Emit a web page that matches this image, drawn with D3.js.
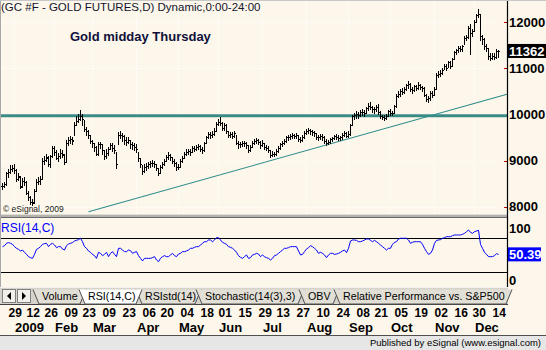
<!DOCTYPE html>
<html><head><meta charset="utf-8">
<script src="https://cdn.jsdelivr.net/npm/d3@7"></script>
<style>
html,body{margin:0;padding:0;background:#fcf7ea;overflow:hidden}
svg{display:block}
text{font-family:"Liberation Sans",Arial,sans-serif}
</style></head><body>
<svg id="c" width="546" height="350"></svg>
<script>
// ---------------- data ----------------
const firstDate = "2008-12-23", lastDate = "2009-12-17";
const holidays = ["2008-12-25","2009-01-01","2009-01-19","2009-02-16","2009-04-10","2009-05-25","2009-07-03","2009-09-07","2009-11-26"];
const opens = [
8440,8450,8500,8720,8750,8810,8840,8790,8590,8650,
8440,8560,8530,8300,8200,8110,8100,8350,8530,8560,
8600,9000,9010,9060,8930,9090,9280,9190,9060,9100,
9170,9130,8970,9390,9440,9470,9440,9760,9860,9910,
9960,9890,9680,9640,9550,9430,9380,9300,9150,9350,
9350,9230,9090,9160,9260,9330,9280,9230,8930,9560,
9550,9530,9440,9400,9450,9350,9330,9290,9250,9050,
8920,8770,8850,8880,8920,8940,8950,8930,8830,8720,
8860,8920,8990,9080,9120,9080,9000,8950,8850,8870,
8980,9060,9150,9180,9200,9190,9270,9250,9290,9310,
9250,9220,9380,9500,9580,9560,9570,9650,9800,9840,
9820,9700,9780,9630,9560,9570,9540,9590,9390,9350,
9360,9380,9370,9330,9220,9300,9380,9420,9440,9400,
9340,9380,9290,9280,9220,9130,9150,9140,9200,9270,
9360,9390,9420,9500,9510,9530,9550,9540,9550,9460,
9450,9500,9600,9640,9660,9640,9620,9590,9500,9510,
9540,9520,9420,9390,9410,9460,9480,9530,9520,9490,
9500,9560,9600,9540,9580,9780,9960,9980,10000,9980,
10050,10060,10040,10130,10190,10170,10110,10120,10160,10050,
9960,9940,9920,9970,10070,10020,10040,10180,10400,10430,
10500,10490,10550,10630,10660,10540,10520,10610,10580,10630,
10600,10560,10420,10330,10350,10470,10410,10550,10850,10880,
10900,10960,11040,11010,11130,11050,11190,11340,11390,11440,
11410,11470,11650,11670,11880,11760,11810,12010,12150,12170,
11690,11640,11480,11440,11260,11220,11270,11250,11370];
const closes = [
8450,8490,8720,8750,8810,8840,8790,8590,8660,8430,
8560,8540,8300,8210,8110,8090,8350,8530,8560,8600,
9000,9010,9070,8930,9090,9280,9190,9060,9100,9170,
9140,8970,9390,9440,9470,9430,9760,9860,9910,9960,
9890,9680,9640,9550,9430,9380,9300,9150,9350,9350,
9230,9090,9160,9260,9330,9280,9230,8920,9560,9550,
9530,9440,9400,9450,9350,9330,9290,9250,9050,8920,
8770,8850,8880,8920,8940,8950,8930,8830,8720,8860,
8920,8990,9080,9120,9080,9000,8950,8850,8870,8980,
9060,9150,9180,9200,9190,9270,9250,9290,9310,9250,
9220,9380,9500,9580,9560,9570,9650,9800,9840,9820,
9700,9780,9630,9560,9570,9540,9590,9390,9350,9360,
9380,9370,9330,9220,9300,9380,9420,9440,9400,9340,
9380,9290,9280,9220,9130,9150,9140,9200,9270,9360,
9390,9420,9500,9510,9530,9550,9540,9550,9460,9450,
9500,9600,9640,9660,9640,9620,9590,9500,9510,9540,
9520,9420,9390,9410,9460,9480,9530,9520,9490,9500,
9560,9600,9540,9580,9780,9960,9980,10000,9980,10050,
10060,10040,10130,10190,10170,10110,10120,10160,10050,9960,
9940,9920,9970,10070,10020,10040,10180,10400,10430,10500,
10490,10550,10630,10660,10540,10520,10610,10580,10630,10600,
10560,10420,10330,10350,10470,10410,10550,10850,10880,10900,
10960,11040,11010,11130,11050,11190,11340,11390,11440,11410,
11470,11650,11670,11880,11760,11810,12010,12150,12180,11690,
11640,11480,11440,11260,11220,11270,11250,11370,11362];
const highs = [
8520,8530,8760,8810,8900,8910,8920,8820,8730,8660,
8620,8640,8550,8330,8240,8160,8390,8600,8650,8660,
9060,9100,9140,9100,9110,9310,9320,9230,9160,9260,
9230,9140,9450,9510,9540,9510,9830,9960,10000,10090,
10010,9870,9730,9660,9560,9450,9390,9320,9400,9410,
9360,9230,9250,9300,9380,9370,9330,9180,9620,9650,
9600,9550,9500,9500,9440,9400,9380,9360,9180,9060,
8900,8920,8940,8970,9000,9020,8990,8930,8830,8900,
8960,9040,9120,9180,9150,9080,9030,8960,8930,9030,
9100,9190,9240,9260,9250,9310,9320,9330,9360,9340,
9290,9410,9540,9620,9620,9630,9700,9830,9900,9940,
9830,9820,9800,9650,9620,9610,9630,9560,9420,9410,
9420,9430,9400,9330,9340,9420,9460,9480,9470,9420,
9450,9380,9340,9310,9230,9200,9190,9240,9310,9390,
9430,9460,9530,9560,9570,9600,9580,9590,9560,9510,
9550,9630,9680,9700,9690,9670,9650,9600,9550,9580,
9570,9530,9460,9450,9490,9520,9560,9570,9550,9540,
9590,9640,9620,9640,9800,9990,10030,10070,10060,10090,
10110,10090,10170,10240,10260,10190,10160,10200,10220,10070,
9990,9980,10010,10100,10110,10080,10210,10450,10500,10540,
10560,10590,10660,10720,10680,10590,10640,10640,10700,10660,
10620,10590,10440,10390,10500,10510,10600,10890,10930,10960,
11000,11080,11080,11160,11150,11220,11380,11420,11470,11490,
11500,11700,11720,11920,11950,11840,12040,12180,12275,12180,
11720,11650,11520,11430,11320,11320,11330,11420,11400];
const lows = [
8390,8420,8480,8650,8720,8770,8740,8560,8570,8410,
8420,8470,8270,8150,8060,8030,8080,8340,8490,8500,
8590,8930,8980,8880,8870,9070,9120,9030,9000,9060,
9080,8930,8960,9340,9380,9360,9560,9780,9840,9880,
9780,9640,9550,9480,9380,9290,9200,9110,9120,9270,
9150,9040,9050,9130,9250,9200,9170,8830,9350,9480,
9420,9360,9330,9370,9280,9250,9230,9180,9000,8860,
8700,8760,8800,8830,8870,8880,8860,8790,8690,8720,
8830,8900,8990,9040,9020,8950,8890,8800,8810,8860,
8970,9050,9120,9140,9130,9180,9200,9220,9250,9200,
9160,9210,9370,9480,9490,9500,9550,9640,9760,9770,
9660,9660,9590,9510,9500,9480,9520,9350,9270,9300,
9310,9320,9280,9180,9200,9300,9350,9390,9360,9280,
9320,9250,9230,9180,9080,9100,9090,9110,9180,9250,
9320,9360,9400,9450,9460,9490,9480,9480,9420,9400,
9420,9490,9570,9600,9580,9560,9540,9460,9450,9470,
9450,9380,9340,9350,9390,9430,9460,9470,9440,9450,
9470,9540,9510,9500,9560,9760,9900,9930,9920,9960,
9990,9970,10030,10100,10110,10060,10040,10080,10010,9920,
9890,9880,9910,9960,9990,9980,10030,10170,10370,10400,
10430,10470,10530,10580,10500,10470,10500,10520,10540,10540,
10500,10390,10290,10270,10320,10380,10420,10540,10800,10840,
10870,10980,10960,11020,11010,11040,11200,11310,11360,11370,
11380,11520,11600,11660,11310,11700,11800,12000,12110,11600,
11530,11420,11380,11200,11180,11190,11200,11230,11240];
const rsi = [
59.5,60.6,63.4,64.2,63.4,62.2,59.5,57.5,56.3,54.4,
55.5,52.8,50.4,47.7,46.5,45.7,50.4,56.3,57.5,59.5,
62.2,63.0,63.4,59.5,62.2,63.4,61.4,58.3,59.5,59.5,
56.7,55.5,60.6,62.6,63.4,64.2,66.1,66.9,67.7,69.3,
65.3,59.5,57.5,54.4,52.8,50.4,48.9,45.7,52.8,51.6,
48.9,50.4,52.8,47.7,51.6,53.6,50.4,47.7,57.5,57.5,
55.5,53.6,53.6,55.5,54.8,51.6,52.8,53.6,48.9,45.7,
42.6,45.7,45.7,45.7,45.7,46.5,47.7,43.8,41.8,45.7,
47.7,48.9,47.7,47.7,49.7,51.6,48.9,47.7,50.8,51.6,
53.6,53.6,54.4,55.5,57.5,57.5,58.7,59.5,59.5,61.4,
63.4,65.3,65.3,67.3,67.3,65.3,67.3,70.0,70.0,67.3,
64.6,63.4,62.2,59.5,58.7,57.5,55.5,52.8,48.9,46.9,
45.7,47.7,49.7,45.7,46.5,49.7,50.4,51.6,50.8,47.7,
49.7,47.7,46.5,45.7,43.8,45.7,48.9,49.7,51.6,53.6,
55.5,57.5,57.5,58.3,59.5,59.5,59.5,59.5,54.4,49.7,
50.4,53.6,56.7,58.3,60.6,59.5,57.5,55.5,51.6,52.8,
51.6,49.7,46.5,49.7,51.6,51.6,50.4,50.8,51.6,52.8,
54.4,55.5,52.4,57.5,66.1,67.3,67.3,66.9,65.3,65.3,
66.1,67.3,68.5,68.5,66.9,65.3,66.9,65.3,63.4,61.4,
59.5,57.5,55.5,57.5,57.5,62.2,64.6,65.3,68.5,69.3,
69.3,69.3,69.3,67.3,63.4,64.6,65.3,65.3,65.3,65.3,
62.2,57.5,53.6,50.4,51.6,55.5,63.4,66.9,67.3,67.7,
69.3,70.0,71.2,71.2,71.2,72.4,73.2,73.2,73.2,73.2,
74.0,75.1,77.1,79.1,76.3,75.1,77.1,77.9,78.7,62.2,
57.5,52.8,50.4,47.7,47.7,47.7,48.9,51.2,50.39];
const dayTicks = ["2008-12-29","2009-01-12","2009-01-26","2009-02-09","2009-02-23","2009-03-09","2009-03-23",
  "2009-04-06","2009-04-20","2009-05-04","2009-05-18","2009-06-01","2009-06-15","2009-06-29","2009-07-13",
  "2009-07-27","2009-08-10","2009-08-24","2009-09-08","2009-09-21","2009-10-05","2009-10-19","2009-11-02",
  "2009-11-16","2009-11-30","2009-12-14"];
const monthLabels = ["2009","Feb","Mar","Apr","May","Jun","Jul","Aug","Sep","Oct","Nov","Dec"];
const priceTicks = [8000,9000,10000,11000,12000];
const rsiBands = [70,30];
const rsiScaleLabels = [100,0];
const supportLevel = 9970;
const trendAnchors = [["2009-02-26",7890],["2009-09-30",9715]];
const lastPrice = 11362, lastRsi = 50.39;
const titleText = "(GC #F - GOLD FUTURES,D) Dynamic,0:00-24:00";
const noteText = "Gold midday Thursday";
const copyText = "\u00a9 eSignal, 2009";
const rsiName = "RSI(14,C)";
const tabs = ["Volume","RSI(14,C)","RSIstd(14)","Stochastic(14(3),3)","OBV","Relative Performance vs. S&P500"];
const activeTab = "RSI(14,C)";
const footer = "Published by eSignal (www.esignal.com)";

// ---------------- layout ----------------
const W = 546, H = 350, AX = 507;
const PB = 214, RT = 218, RB = 287;
const BG = "#fcf7ea", TEAL = "#3a8a86";
const NARROW = '"Liberation Sans Narrow","Arial Narrow","Liberation Sans",Arial,sans-serif';

const parse = d3.utcParse("%Y-%m-%d"), fmt = d3.utcFormat("%Y-%m-%d");
const dates = d3.utcDays(parse(firstDate), d3.utcDay.offset(parse(lastDate), 1))
  .filter(d => d.getUTCDay() % 6 !== 0 && !holidays.includes(fmt(d))).map(fmt);

const x = d3.scalePoint().domain(dates).range([2.5, 498.5]);
const y = d3.scaleLinear().domain([8000, 12000]).range([206.7, 22]);
const yR = d3.scaleLinear().domain([30, 70]).range([271.7, 237.7]);

const svg = d3.select("#c");
svg.append("rect").attr("width", W).attr("height", H).attr("fill", BG);

// ----- price panel -----
const monthStarts = dates.filter((d, i) => i > 0 && d.slice(5, 7) !== dates[i - 1].slice(5, 7));
const grid = svg.append("g").attr("stroke", "#ffffff").attr("stroke-dasharray", "1,1").attr("shape-rendering", "crispEdges");
grid.selectAll("line.h").data(priceTicks).join("line")
  .attr("x1", 0).attr("x2", 497).attr("y1", d => Math.round(y(d)) + 0.5).attr("y2", d => Math.round(y(d)) + 0.5);
grid.selectAll("line.v").data(monthStarts).join("line")
  .attr("x1", d => Math.floor(x(d)) + 0.5).attr("x2", d => Math.floor(x(d)) + 0.5).attr("y1", 1).attr("y2", PB);

svg.append("text").attr("x", 1).attr("y", 10.5).attr("font-size", 11.5).attr("fill", "#14142e").text(titleText);
svg.append("text").attr("x", 70).attr("y", 40.5).attr("font-size", 13).attr("font-weight", "bold").attr("fill", "#10103a").text(noteText);
svg.append("text").attr("x", 3).attr("y", 212).attr("font-size", 8.5).attr("fill", "#202020").text(copyText);

// support line + trend line
svg.append("line").attr("x1", 0).attr("x2", AX).attr("y1", y(supportLevel)).attr("y2", y(supportLevel))
  .attr("stroke", TEAL).attr("stroke-width", 3.2);
{
  const [a1, a2] = trendAnchors;
  const x1 = x(a1[0]), y1 = y(a1[1]), x2 = x(a2[0]), y2 = y(a2[1]);
  const yEnd = y1 + (y2 - y1) * (AX - x1) / (x2 - x1);
  svg.append("line").attr("x1", x1).attr("y1", y1).attr("x2", AX).attr("y2", yEnd)
    .attr("stroke", "#2f8c8c").attr("stroke-width", 1.1);
}

// OHLC bars
const bars = dates.map((d, i) => ({ d, o: opens[i], h: highs[i], l: lows[i], c: closes[i] }));
const bg = svg.append("g").attr("fill", "#000").attr("shape-rendering", "crispEdges");
bg.selectAll("rect.hl").data(bars).join("rect")
  .attr("x", d => Math.floor(x(d.d))).attr("width", 1)
  .attr("y", d => Math.round(y(d.h)))
  .attr("height", d => Math.max(1, Math.round(y(d.l)) - Math.round(y(d.h)) + 1));
bg.selectAll("rect.o").data(bars).join("rect")
  .attr("x", d => Math.floor(x(d.d)) - 1).attr("width", 1)
  .attr("y", d => Math.round(y(d.o))).attr("height", 1);
bg.selectAll("rect.c").data(bars).join("rect")
  .attr("x", d => Math.floor(x(d.d)) + 1).attr("width", 1)
  .attr("y", d => Math.round(y(d.c))).attr("height", 1);

// splitter
svg.append("rect").attr("x", 0).attr("y", PB).attr("width", AX + 1).attr("height", 4).attr("fill", "#b4b2ac");
svg.append("line").attr("x1", 0).attr("x2", AX + 1).attr("y1", PB + 0.5).attr("y2", PB + 0.5).attr("stroke", "#e0ddd6");
svg.append("line").attr("x1", 0).attr("x2", AX + 1).attr("y1", PB + 3.5).attr("y2", PB + 3.5).attr("stroke", "#6a6a6a");

// price axis labels
const pa = svg.append("g").attr("transform", `translate(${AX},0)`)
  .call(d3.axisRight(y).tickValues(priceTicks).tickSize(0).tickPadding(2).tickFormat(d3.format("d")));
pa.select(".domain").remove();
pa.selectAll("text").attr("font-family", NARROW).attr("font-weight", "bold").attr("font-size", 13).attr("fill", "#000");
svg.selectAll("line.rt").data(priceTicks.filter(v => v !== 10000)).join("line")
  .attr("x1", AX - 3).attr("x2", AX).attr("y1", d => Math.round(y(d)) + 0.5).attr("y2", d => Math.round(y(d)) + 0.5)
  .attr("stroke", "#b00000");
{
  const yl = y(lastPrice);
  svg.append("rect").attr("x", AX + 1).attr("y", yl - 7.5).attr("width", 38).attr("height", 14).attr("fill", "#000");
  svg.append("text").attr("x", AX + 2).attr("y", yl + 4.5).attr("font-family", NARROW).attr("font-weight", "bold")
    .attr("font-size", 13).attr("fill", "#fff").text(d3.format("d")(lastPrice));
}

// ----- RSI panel -----
svg.append("text").attr("x", 1).attr("y", 232).attr("font-size", 12).attr("fill", "#0000ff").text(rsiName);
svg.selectAll("line.band").data(rsiBands).join("line")
  .attr("x1", 0).attr("x2", AX).attr("y1", d => Math.round(yR(d)) + 0.5).attr("y2", d => Math.round(yR(d)) + 0.5)
  .attr("stroke", "#000").attr("shape-rendering", "crispEdges");
svg.append("path").datum(dates.map((d, i) => [x(d), yR(rsi[i])]))
  .attr("d", d3.line()).attr("fill", "none").attr("stroke", "#0000ff").attr("stroke-width", 1);
svg.selectAll("text.rl").data(rsiScaleLabels).join("text")
  .attr("x", AX + 2)
  .attr("y", d => Math.min(Math.max(yR(d), RT + 10), RB - 7) + 4.5)
  .attr("font-family", NARROW).attr("font-weight", "bold").attr("font-size", 13).attr("fill", "#000").text(d => d);
{
  const yl = yR(lastRsi);
  svg.append("rect").attr("x", AX + 1).attr("y", yl - 7).attr("width", 33).attr("height", 14).attr("fill", "#0000ff");
  svg.append("text").attr("x", AX + 2).attr("y", yl + 4.5).attr("font-family", NARROW).attr("font-weight", "bold")
    .attr("font-size", 13).attr("fill", "#fff").text(d3.format(".2f")(lastRsi));
}

// axis line and borders
svg.append("line").attr("x1", AX + 0.5).attr("x2", AX + 0.5).attr("y1", 0).attr("y2", RB).attr("stroke", "#000").attr("stroke-width", 1.2);
svg.append("line").attr("x1", 0.5).attr("x2", 0.5).attr("y1", 0).attr("y2", RB).attr("stroke", "#a8a8a8");
svg.append("line").attr("x1", 0).attr("x2", W).attr("y1", 0.5).attr("y2", 0.5).attr("stroke", "#c8c8c8");

// ----- tab bar -----
const TB = RB, TH = 18;
svg.append("rect").attr("x", 0).attr("y", TB).attr("width", AX + 1).attr("height", TH).attr("fill", "#d6d3ca");
svg.append("line").attr("x1", 0).attr("x2", AX + 1).attr("y1", TB + 0.5).attr("y2", TB + 0.5).attr("stroke", "#f4f2ee");
svg.append("line").attr("x1", 0).attr("x2", AX + 1).attr("y1", TB + TH - 0.5).attr("y2", TB + TH - 0.5).attr("stroke", "#404040");
[[2, "M7,296 L11,292 L11,300 Z"], [17, "M26,296 L22,292 L22,300 Z"]].forEach(([bx, tri]) => {
  svg.append("rect").attr("x", bx + 0.5).attr("y", TB + 2.5).attr("width", 13).attr("height", 13)
    .attr("fill", "#f2f0ea").attr("stroke", "#808080");
  svg.append("path").attr("d", tri).attr("fill", "#000");
});
const tabEdges = [[33, 86], [79, 142], [136, 201], [196, 304], [299, 339], [334, 512]];
const tabData = tabs.map((t, i) => ({ t, L: tabEdges[i][0], R: tabEdges[i][1] }));
const tg = svg.append("g");
const drawTab = sel => sel.append("path")
  .attr("d", d => `M${d.L},${TB + 2.5} L${d.L + 6},${TB + TH - 1} L${d.R - 6},${TB + TH - 1} L${d.R},${TB + 2.5}`)
  .attr("fill", d => d.t === activeTab ? "#ffffff" : "#e2dfd6").attr("stroke", "#505050");
const inactive = tg.selectAll("g.tab").data(tabData.filter(d => d.t !== activeTab)).join("g");
drawTab(inactive);
const active = tg.selectAll("g.act").data(tabData.filter(d => d.t === activeTab)).join("g");
drawTab(active);
tg.selectAll("text").data(tabData).join("text")
  .attr("x", d => d.L + 9).attr("y", TB + 12.5).attr("font-size", 10.7).attr("fill", "#000").text(d => d.t);

// ----- date axis -----
const da = svg.append("g").attr("transform", "translate(0,306)")
  .call(d3.axisBottom(x).tickValues(dayTicks).tickSize(0).tickPadding(0).tickFormat(d => d.slice(8)));
da.select(".domain").remove();
da.selectAll("text").attr("text-anchor", "start").attr("dy", 0).attr("y", 10.7).attr("x", -0.5)
  .attr("font-family", NARROW).attr("font-weight", "bold").attr("font-size", 12).attr("fill", "#000");
const ma = svg.append("g").attr("transform", "translate(0,321)")
  .call(d3.axisBottom(x).tickValues(monthStarts).tickSize(0).tickPadding(0).tickFormat((d, i) => monthLabels[i]));
ma.select(".domain").remove();
ma.selectAll("text").attr("text-anchor", "start").attr("dy", 0).attr("y", 10.7).attr("x", 0)
  .attr("font-family", NARROW).attr("font-weight", "bold").attr("font-size", 13).attr("fill", "#000");

// ----- status bar -----
svg.append("rect").attr("x", 0).attr("y", 336).attr("width", W).attr("height", 14).attr("fill", "#e6e6e6");
svg.append("line").attr("x1", 0).attr("x2", W).attr("y1", 335.5).attr("y2", 335.5).attr("stroke", "#505050");
svg.append("text").attr("x", 541).attr("y", 346).attr("text-anchor", "end").attr("font-size", 9.5).attr("fill", "#000").text(footer);
</script>
</body></html>
